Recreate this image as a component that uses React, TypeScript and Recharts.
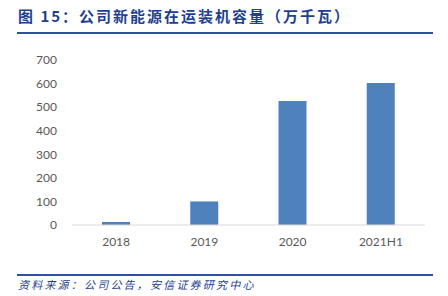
import React from "react";
import { BarChart, Bar, XAxis, YAxis } from "recharts";

const categories = ["2018", "2019", "2020", "2021H1"];
const capacity = [13, 100, 526, 602];
const yTicks = [0, 100, 200, 300, 400, 500, 600, 700];

const data = categories.map((c, i) => ({ name: c, value: capacity[i] }));

const blue = "#1F3F8F";

export default function App() {
  return (
    <div style={{ position: "absolute", left: 0, top: 0, width: 448, height: 296, background: "#fff", overflow: "hidden" }}>
      <div style={{ position: "absolute", left: 18, top: 6, fontFamily: "'Noto Sans CJK SC', sans-serif", fontWeight: 700, fontSize: 15, letterSpacing: 2, color: blue, whiteSpace: "nowrap", lineHeight: "20px" }}>
        图 15：公司新能源在运装机容量（万千瓦）
      </div>
      <div style={{ position: "absolute", left: 17, top: 32, width: 416, height: 1.5, background: "#2F4F9F" }} />
      <div style={{ position: "absolute", left: 0, top: 0 }}>
        <BarChart width={448} height={296} data={data} margin={{ top: 60, right: 23, bottom: 41, left: 0 }}>
          <XAxis
            dataKey="name"
            axisLine={{ stroke: "#D9D9D9", strokeWidth: 1 }}
            tickLine={false}
            tickMargin={6}
            height={30}
            tick={{ fill: "#595959", fontSize: 12, fontFamily: "Lato, 'Open Sans', sans-serif" }}
            interval={0}
          />
          <YAxis
            domain={[0, 700]}
            ticks={yTicks}
            axisLine={false}
            tickLine={false}
            width={72}
            tickMargin={9}
            tick={{ fill: "#595959", fontSize: 12, fontFamily: "Lato, 'Open Sans', sans-serif" }}
            interval={0}
          />
          <Bar dataKey="value" fill="#4F81BD" barSize={28} isAnimationActive={false} />
        </BarChart>
      </div>
      <div style={{ position: "absolute", left: 17, top: 274, width: 416, height: 1.5, background: "#2F4F9F" }} />
      <div style={{ position: "absolute", left: 18, top: 276, fontFamily: "'Noto Sans CJK SC', sans-serif", fontStyle: "italic", fontSize: 11, letterSpacing: 2.2, color: blue, whiteSpace: "nowrap", lineHeight: "16px" }}>
        资料来源：公司公告，安信证券研究中心
      </div>
    </div>
  );
}
